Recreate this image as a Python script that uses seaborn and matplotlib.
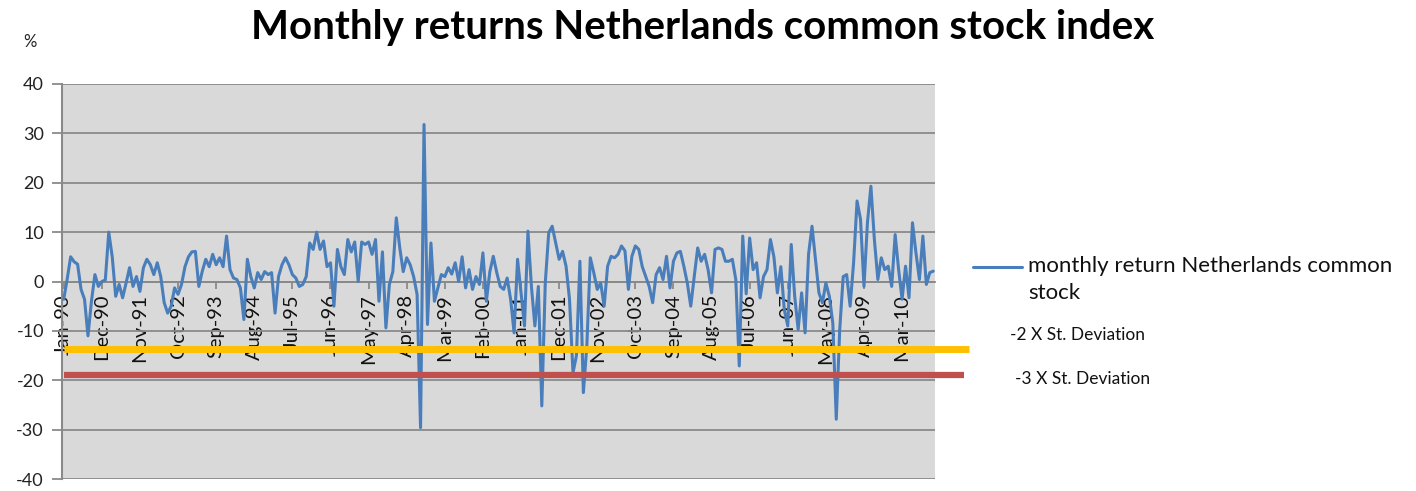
import numpy as np
import pandas as pd
import matplotlib
matplotlib.use("Agg")
import matplotlib.pyplot as plt
from matplotlib.lines import Line2D
import seaborn as sns

# Monthly returns of the Netherlands common stock index (%), Jan 1990 - Dec 2010
r1990 = [-3.6, 0.5, 5.0, 4.0, 3.5, -1.6, -3.6, -11.0, -4.0, 1.4, -1.0, 0.0]
r1991 = [0.3, 10.0, 5.0, -3.0, -0.6, -3.3, -0.3, 2.8, -1.0, 1.0, -2.0, 2.8]
r1992 = [4.5, 3.4, 1.4, 3.8, 1.0, -4.3, -6.4, -5.0, -1.3, -2.6, -0.6, 3.0]
r1993 = [5.0, 6.0, 6.1, -1.0, 2.1, 4.5, 3.0, 5.5, 3.4, 4.8, 3.0, 9.2]
r1994 = [2.4, 0.7, 0.4, -1.3, -7.7, 4.5, 1.0, -1.3, 1.8, 0.4, 2.0, 1.4]
r1995 = [1.8, -6.4, 1.0, 3.4, 4.8, 3.4, 1.4, 0.7, -1.0, -0.6, 1.0, 7.8]
r1996 = [6.5, 10.0, 6.5, 8.2, 3.0, 3.8, -5.0, 6.5, 3.0, 1.4, 8.5, 6.0]
r1997 = [8.0, 0.0, 8.0, 7.5, 8.0, 5.5, 8.5, -4.0, 6.0, -9.4, -0.6, 2.0]
r1998 = [12.9, 6.8, 2.0, 4.8, 3.4, 1.0, -2.6, -29.6, 31.8, -8.7, 7.8, -4.0]
r1999 = [-1.3, 1.4, 1.0, 2.8, 1.5, 3.8, 0.0, 5.0, -1.3, 2.4, -1.6, 1.0]
r2000 = [-0.6, 5.8, -4.0, 2.0, 5.1, 1.8, -1.0, -1.6, 0.7, -3.6, -10.4, 4.5]
r2001 = [-2.3, -9.0, 10.2, -1.0, -9.0, -1.0, -25.2, -0.3, 9.9, 11.2, 7.8, 4.5]
r2002 = [6.1, 3.1, -3.6, -18.5, -15.0, 4.1, -22.5, -13.0, 4.8, 1.8, -1.6, -0.3]
r2003 = [-5.0, 3.1, 5.1, 4.8, 5.5, 7.2, 6.2, -1.6, 5.1, 7.2, 6.5, 3.0]
r2004 = [1.0, -1.0, -4.3, 1.4, 2.8, 0.4, 5.1, -1.3, 4.1, 5.8, 6.1, 3.1]
r2005 = [-0.3, -5.0, 1.0, 6.8, 4.1, 5.5, 2.4, -2.3, 6.5, 6.8, 6.5, 4.1]
r2006 = [4.1, 4.5, 0.4, -17.1, 9.2, -2.5, 8.8, 2.4, 3.8, -3.3, 1.0, 2.4]
r2007 = [8.5, 5.0, -2.3, 3.0, -5.7, -9.0, 7.5, -3.0, -9.7, -2.3, -10.4, 5.5]
r2008 = [11.2, 4.5, -2.3, -4.3, -0.3, -3.0, -8.4, -27.9, -9.7, 1.0, 1.4, -5.0]
r2009 = [3.8, 16.3, 12.6, -1.0, 11.9, 19.3, 8.5, 0.4, 4.8, 2.4, 3.1, -1.0]
r2010 = [9.5, 2.4, -3.6, 3.1, -3.3, 11.9, 5.8, 0.4, 9.2, -0.6, 1.8, 2.1]

years = [r1990, r1991, r1992, r1993, r1994, r1995, r1996, r1997, r1998, r1999, r2000,
         r2001, r2002, r2003, r2004, r2005, r2006, r2007, r2008, r2009, r2010]
returns = np.concatenate([np.array(y, dtype=float) for y in years])

# Threshold levels (%)
minus_two_sd = -13.7
minus_three_sd = -19.0

months = pd.date_range("1990-01-01", periods=len(returns), freq="MS")
label_every = 11
tick_pos = np.arange(0, len(returns), label_every)
tick_labels = [months[i].strftime("%b-%y") for i in tick_pos]
y_ticks = list(range(-40, 41, 10))

title = "Monthly returns Netherlands common stock index"
series_label = "monthly return Netherlands common\nstock"
two_sd_label = "-2 X St. Deviation"
three_sd_label = "-3 X St. Deviation"

# ---------------------------------------------------------------- styling
sns.set_theme(style="white")
plt.rcParams["font.family"] = ["Lato", "DejaVu Sans"]

W, H = 1416, 491
fig = plt.figure(figsize=(W / 100, H / 100), dpi=100)
fig.patch.set_facecolor("white")


def fx(px):
    return px / W


def fy(py):
    return 1 - py / H


ax = fig.add_axes([fx(62), fy(479), fx(935) - fx(62), fy(84) - fy(479)])
ax.set_facecolor("#d9d9d9")

df = pd.DataFrame({"month": np.arange(len(returns)), "ret": returns})
sns.lineplot(data=df, x="month", y="ret", ax=ax, color="#4a7ebb",
             linewidth=2.2, legend=False, zorder=3)

ax.set_xlim(-0.5, len(returns) - 0.5)
ax.set_ylim(-40, 40)
ax.set_yticks(y_ticks)
ax.set_yticklabels([str(v) for v in y_ticks])
ax.set_xticks(tick_pos)
ax.set_xticklabels(tick_labels)
ax.set_xlabel("")
ax.set_ylabel("")

ax.yaxis.grid(True, color="#8a8a8a", linewidth=1.3)
ax.xaxis.grid(False)
ax.set_axisbelow(True)

for side in ("top", "right"):
    ax.spines[side].set_visible(False)
ax.spines["left"].set_color("#8a8a8a")
ax.spines["left"].set_linewidth(1.5)
ax.spines["bottom"].set_position(("data", 0))
ax.spines["bottom"].set_color("#8a8a8a")
ax.spines["bottom"].set_linewidth(1.3)

ax.tick_params(axis="y", direction="out", length=7, width=1.3, color="#8a8a8a",
               pad=6, left=True, labelsize=13, labelcolor="#222222")
ax.tick_params(axis="x", direction="out", length=5, width=1.3, color="#8a8a8a",
               pad=4, bottom=True, labelsize=14.5, labelcolor="#111111",
               labelrotation=90)

# Standard-deviation thresholds, running out beside the plot area
ax_w = 935 - 62
ax.axhline(minus_two_sd, xmin=2 / ax_w, xmax=(969 - 62) / ax_w, color="#ffc000",
           linewidth=5, clip_on=False, zorder=5, solid_capstyle="butt")
ax.axhline(minus_three_sd, xmin=2 / ax_w, xmax=(964 - 62) / ax_w, color="#c0504d",
           linewidth=4.5, clip_on=False, zorder=5, solid_capstyle="butt")

# Legend entries
fig.add_artist(Line2D([fx(973), fx(1022)], [fy(267), fy(267)], color="#4a7ebb",
                      linewidth=2.2))
fig.text(fx(1028), fy(256), series_label, ha="left", va="top", fontsize=16,
         color="#111111", linespacing=1.45)
fig.text(fx(1010), fy(335), two_sd_label, ha="left", va="center", fontsize=12.5,
         color="#111111")
fig.text(fx(1015), fy(379), three_sd_label, ha="left", va="center", fontsize=12.5,
         color="#111111")

fig.text(fx(703), fy(27), title, ha="center", va="center", fontsize=29,
         fontweight="bold", color="black")
fig.text(fx(30), fy(42), "%", ha="center", va="center", fontsize=12, color="#222222")

fig.savefig("out.png", dpi=100, facecolor="white")
